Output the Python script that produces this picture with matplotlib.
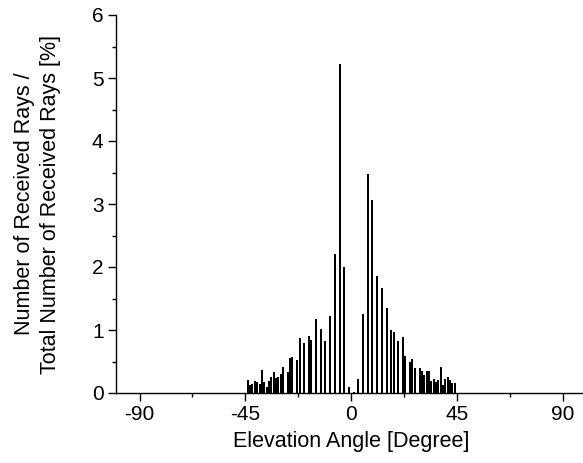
import matplotlib.pyplot as plt
from matplotlib.ticker import MultipleLocator

plt.rcParams['font.family'] = ['Liberation Sans', 'DejaVu Sans']
plt.rcParams['axes.unicode_minus'] = False

# elevation angle bins [degree] and share of received rays [%]
angle_neg = [-44, -43, -42, -41, -40, -39, -38, -37, -36, -35, -34, -33, -32,
             -31, -30, -29, -27, -26, -25, -23, -22, -20, -18, -17, -15, -13,
             -11, -9, -7, -5, -3, -1]
share_neg = [0.20, 0.13, 0.15, 0.19, 0.17, 0.14, 0.36, 0.17, 0.10, 0.19, 0.26,
             0.33, 0.24, 0.26, 0.30, 0.42, 0.33, 0.55, 0.57, 0.52, 0.88, 0.80,
             0.90, 0.84, 1.17, 1.02, 0.82, 1.22, 2.20, 5.22, 2.00, 0.09]

angle_pos = [1, 3, 5, 7, 9, 11, 13, 15, 17, 18, 20, 22, 23, 25, 26, 27, 29,
             30, 31, 32, 33, 34, 35, 36, 37, 38, 39, 40, 41, 42, 43, 44]
share_pos = [0.02, 0.22, 1.25, 3.47, 3.07, 1.85, 1.67, 1.35, 1.00, 0.97, 0.83,
             0.89, 0.59, 0.50, 0.54, 0.40, 0.39, 0.35, 0.28, 0.35, 0.35, 0.19,
             0.22, 0.18, 0.20, 0.42, 0.13, 0.22, 0.26, 0.20, 0.16, 0.16]

angles = angle_neg + angle_pos
shares = share_neg + share_pos

fig = plt.figure(figsize=(5.83, 4.63), dpi=100)
ax = fig.add_axes([116 / 583, 70 / 463, 470.6 / 583, 378 / 463])

ax.bar(angles, shares, width=0.85, color='black', linewidth=0)

ax.set_xlim(-100, 100)
ax.set_ylim(0, 6)
ax.xaxis.set_major_locator(MultipleLocator(45))
ax.xaxis.set_minor_locator(MultipleLocator(22.5))
ax.yaxis.set_major_locator(MultipleLocator(1))
ax.yaxis.set_minor_locator(MultipleLocator(0.5))

ax.spines['top'].set_visible(False)
ax.spines['right'].set_visible(False)
for s in ['left', 'bottom']:
    ax.spines[s].set_linewidth(1.0)

ax.tick_params(which='major', direction='out', length=6, width=1.0,
               labelsize=15, pad=3)
ax.tick_params(which='minor', direction='out', length=3, width=1.0)

ax.set_xlabel("Elevation Angle [Degree]", fontsize=15.5, labelpad=5)
ax.set_ylabel("Number of Received Rays /\nTotal Number of Received Rays [%]",
              fontsize=15.5, labelpad=22, linespacing=1.3)

fig.savefig("out.png", dpi=100)
